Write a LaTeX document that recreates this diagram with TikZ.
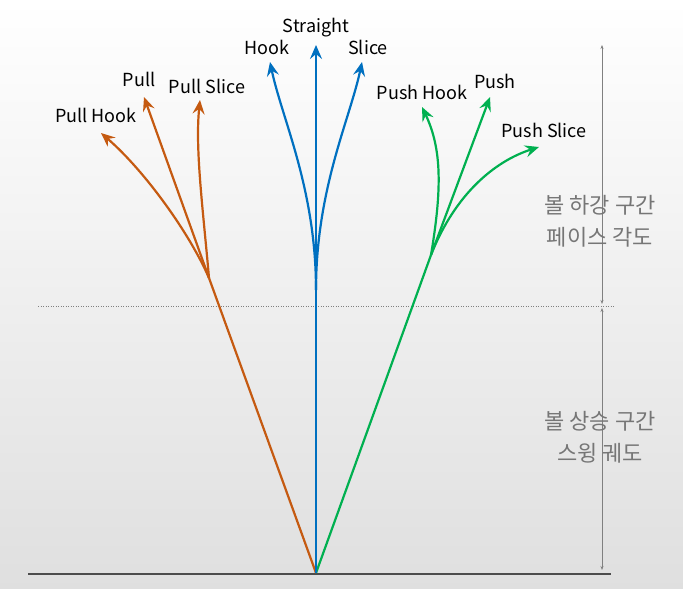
\documentclass[tikz,border=0pt]{standalone}
\usepackage{fontspec}
\setmainfont{Noto Sans CJK KR}
\usetikzlibrary{arrows.meta}
\usetikzlibrary{positioning}
\definecolor{pullcol}{RGB}{197,90,17}
\definecolor{straightcol}{RGB}{0,112,192}
\definecolor{pushcol}{RGB}{0,176,80}
\definecolor{notecol}{RGB}{118,118,118}
\tikzstyle{shot} = [line width=2.2pt, -{Stealth[length=14pt,width=12pt,inset=5pt]}]
\tikzstyle{lbl} = [inner sep=0pt, text height=13pt, text depth=3pt, font=\fontsize{18}{20}\selectfont]
\tikzstyle{note} = [align=center, text=notecol, font=\fontsize{22}{32}\selectfont]
\tikzstyle{dimline} = [gray, line width=0.6pt, {Stealth[length=4pt,width=3pt]}-{Stealth[length=4pt,width=3pt]}]

\begin{document}
\begin{tikzpicture}[x=1pt,y=1pt]
  \fill[top color=white, bottom color=gray!25] (0,0) rectangle (683,589);
  \useasboundingbox (0,0) rectangle (683,589);

  \coordinate (tee) at (316,16);
  \coordinate (groundL) at (28,15);
  \coordinate (groundR) at (611,15);

  \coordinate (straightSplit) at (316,299);
  \coordinate (straightEnd) at (316,544);
  \coordinate (hookEnd) at (270,527);
  \coordinate (sliceEnd) at (362,527);

  \coordinate (pullSplit) at (209,311);
  \coordinate (pullEnd) at (144,492);
  \coordinate (pullHookEnd) at (101,456);
  \coordinate (pullSliceEnd) at (200,489);

  \coordinate (pushSplit) at (431,334);
  \coordinate (pushEnd) at (490,492);
  \coordinate (pushHookEnd) at (422,482);
  \coordinate (pushSliceEnd) at (539,442);

  \coordinate (dimTop) at (602,544);
  \coordinate (dimMidA) at (602,285);
  \coordinate (dimMidB) at (602,281);
  \coordinate (dimBot) at (602,19);
  \coordinate (cutL) at (38,283);
  \coordinate (cutR) at (615,283);

  \draw[gray, line width=0.5pt, dotted] (cutL) -- (cutR);
  \draw[dimline] (dimTop) -- (dimMidA);
  \draw[dimline] (dimMidB) -- (dimBot);
  \draw[black!70, line width=2.5pt] (groundL) -- (groundR);

  \draw[pullcol, line width=2.2pt] (tee) -- (pullSplit);
  \draw[pullcol, shot] (pullSplit) -- (pullEnd);
  \draw[pullcol, shot] (pullSplit) .. controls (190,355) and (145,418) .. (pullHookEnd);
  \draw[pullcol, shot] (pullSplit) .. controls (203,380) and (195,440) .. (pullSliceEnd);

  \draw[pushcol, line width=2.2pt] (tee) -- (pushSplit);
  \draw[pushcol, shot] (pushSplit) -- (pushEnd);
  \draw[pushcol, shot] (pushSplit) .. controls (442,400) and (442,440) .. (pushHookEnd);
  \draw[pushcol, shot] (pushSplit) .. controls (455,395) and (495,428) .. (pushSliceEnd);

  \draw[straightcol, shot] (tee) -- (straightEnd);
  \draw[straightcol, shot] (straightSplit) .. controls (316,400) and (282,470) .. (hookEnd);
  \draw[straightcol, shot] (straightSplit) .. controls (316,400) and (350,470) .. (sliceEnd);

  \node[lbl, above=9pt of straightEnd] (straight) {Straight};
  \node[lbl, above=4pt of hookEnd, xshift=-3pt] (hook) {Hook};
  \node[lbl, above=4pt of sliceEnd, xshift=6pt] (slice) {Slice};
  \node[lbl, above=7pt of pullHookEnd, xshift=-5pt] (pullHook) {Pull Hook};
  \node[lbl, above=7pt of pullEnd, xshift=-5pt] (pull) {Pull};
  \node[lbl, above=3pt of pullSliceEnd, xshift=7pt] (pullSlice) {Pull Slice};
  \node[lbl, above=4pt of pushHookEnd] (pushHook) {Push Hook};
  \node[lbl, above=5pt of pushEnd, xshift=5pt] (push) {Push};
  \node[lbl, above=6pt of pushSliceEnd, xshift=5pt] (pushSlice) {Push Slice};

  \node[note] (fall) at (600,368) {볼 하강 구간\\페이스 각도};
  \node[note] (rise) at (600,152) {볼 상승 구간\\스윙 궤도};
\end{tikzpicture}
\end{document}
